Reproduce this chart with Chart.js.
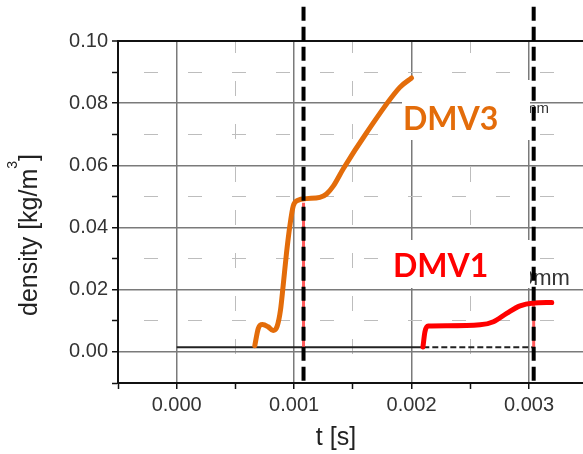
<!DOCTYPE html>
<html>
<head>
<meta charset="utf-8">
<script src="https://cdn.jsdelivr.net/npm/chart.js@4.4.0/dist/chart.umd.min.js"></script>
<style>
html,body{margin:0;padding:0;background:#fff;overflow:hidden;}
canvas{display:block;}
</style>
</head>
<body>
<canvas id="c" width="583" height="454"></canvas>
<script>
// ---- data ----
const xMajorTicks = [0.000, 0.001, 0.002, 0.003];
const yMajorTicks = [0.00, 0.02, 0.04, 0.06, 0.08, 0.10];

const dmv3T   = [0.000665,0.000695,0.000730,0.000778,0.000821,0.000855,0.000884,0.000906,0.000935,0.000963,0.000992,0.001034,0.001105,0.001219,0.001276,0.001333,0.001420,0.001617,0.001900,0.002000];
const dmv3Rho = [0.0020,  0.0076,  0.0088,  0.0081,  0.0069,  0.0082,  0.0135,  0.0211,  0.0318,  0.0404,  0.0469,  0.0488,  0.0493,  0.0497,  0.0508,  0.0533,  0.0590,  0.0705,  0.0851,  0.0881];

const dmv1T   = [0.002097,0.002114,0.002142,0.002300,0.002583,0.002697,0.002810,0.002924,0.003038,0.003194];
const dmv1Rho = [0.0016,  0.0065,  0.0083,  0.0084,  0.0087,  0.0097,  0.0124,  0.0148,  0.0157,  0.0159];

const baseSolidT = [0.0000, 0.0021];
const baseDashT  = [0.0021, 0.00305];
const baseRho    = [0.0015, 0.0015];

const marker1T = [0.00108, 0.00108];
const marker2T = [0.00304, 0.00304];
const markerRho = [0.111, -0.01];

const redMark1Rho = [0.048, 0.0015];
const redMark2Rho = [0.016, 0.0015];

// ---- helpers ----
const pts = (xs, ys) => xs.map((x, i) => ({x: x, y: ys[i]}));
const FONT = '"Liberation Sans", Arial, Helvetica, sans-serif';
const isMajorX = v => xMajorTicks.some(t => Math.abs(t - v) < 1e-9);
const isMajorY = v => yMajorTicks.some(t => Math.abs(t - v) < 1e-9);
const ORANGE = '#E36C0A';
const RED = '#FF0000';

const overlay = {
  id: 'overlay',
  beforeDatasetsDraw(chart) {
    const ctx = chart.ctx;
    ctx.save();
    ctx.fillStyle = '#333';
    ctx.textBaseline = 'alphabetic';
    ctx.textAlign = 'left';
    ctx.font = '15px ' + FONT;
    ctx.fillText('mm', 524, 113);
    ctx.font = '22px ' + FONT;
    ctx.fillText('0mm', 521, 285);
    ctx.fillStyle = '#fff';
    ctx.fillRect(402, 80, 128, 60);
    ctx.fillRect(385, 240, 145, 48);
    ctx.restore();
  },
  afterDatasetsDraw(chart) {
    const ctx = chart.ctx;
    ctx.save();
    ctx.textBaseline = 'alphabetic';
    ctx.textAlign = 'left';
    ctx.font = 'bold 32px Lato, "Open Sans", sans-serif';
    ctx.fillStyle = ORANGE;
    ctx.fillText('DMV3', 403, 130);
    ctx.fillStyle = RED;
    ctx.fillText('DMV1', 393, 277);

    // axis titles
    ctx.fillStyle = '#222';
    ctx.font = '25px ' + FONT;
    ctx.textAlign = 'center';
    ctx.fillText('t [s]', 336, 445);

    ctx.translate(37, 235);
    ctx.rotate(-Math.PI / 2);
    ctx.textAlign = 'left';
    const a = 'density [kg/m', b = '3', c = ']';
    ctx.font = '25px ' + FONT;
    const wa = ctx.measureText(a).width, wc = ctx.measureText(c).width;
    ctx.font = '14px ' + FONT;
    const wb = ctx.measureText(b).width;
    const start = -(wa + wb + wc) / 2;
    ctx.font = '25px ' + FONT;
    ctx.fillText(a, start, 0);
    ctx.fillText(c, start + wa + wb, 0);
    ctx.font = '14px ' + FONT;
    ctx.fillText(b, start + wa, -20);
    ctx.restore();
  }
};

const lineDs = (data, color, width, extra) => Object.assign({
  data: data, borderColor: color, borderWidth: width, pointRadius: 0,
  fill: false, tension: 0, borderCapStyle: 'butt'
}, extra || {});

new Chart(document.getElementById('c'), {
  type: 'line',
  data: {
    datasets: [
      lineDs(pts(marker1T, markerRho), '#000', 4, {borderDash: [14, 6], clip: false}),
      lineDs(pts(marker2T, markerRho), '#000', 4, {borderDash: [14, 6], clip: false}),
      lineDs(pts(dmv3T, dmv3Rho), ORANGE, 5, {tension: 0.4, cubicInterpolationMode: 'monotone', borderCapStyle: 'round'}),
      lineDs(pts(dmv1T, dmv1Rho), RED, 5, {tension: 0.4, cubicInterpolationMode: 'monotone', borderCapStyle: 'round'}),
      lineDs(pts(marker1T, redMark1Rho), '#ff5a5a', 3),
      lineDs(pts(marker2T, redMark2Rho), '#ff5a5a', 3),
      lineDs(pts(baseSolidT, baseRho), '#222', 2),
      lineDs(pts(baseDashT, baseRho), '#222', 2, {borderDash: [6, 3]})
    ]
  },
  options: {
    responsive: false,
    animation: false,
    layout: {padding: {top: 41, left: 0, right: 0, bottom: 0}},
    plugins: {legend: {display: false}, tooltip: {enabled: false}},
    scales: {
      x: {
        type: 'linear',
        min: -0.0005,
        max: 0.00346,
        afterFit(s) { s.height = 71; },
        ticks: {
          stepSize: 0.0005, autoSkip: false, maxTicksLimit: 20, includeBounds: false,
          maxRotation: 0, padding: 4, color: '#333',
          font: {family: FONT, size: 20},
          callback: v => isMajorX(v) ? v.toFixed(3) : ''
        },
        grid: {
          color: c => {
            const v = c.tick ? c.tick.value : 0;
            if (v < -0.0004) return 'rgba(0,0,0,0)';
            return isMajorX(v) ? '#7a7a7a' : '#bdbdbd';
          },
          lineWidth: c => (c.tick && isMajorX(c.tick.value)) ? 1.5 : 1,
          tickColor: '#111', tickLength: 6, tickWidth: 1.5
        },
        border: {
          display: true, color: '#111', width: 2,
          dash: c => (c.tick && !isMajorX(c.tick.value)) ? [15, 28] : [],
          dashOffset: c => (c.tick && !isMajorX(c.tick.value)) ? 3 : 0
        }
      },
      y: {
        type: 'linear',
        min: -0.01,
        max: 0.10,
        afterFit(s) { s.width = 118; },
        ticks: {
          stepSize: 0.01, autoSkip: false, maxTicksLimit: 20, includeBounds: false,
          padding: 4, color: '#333',
          font: {family: FONT, size: 20},
          callback: v => isMajorY(v) ? v.toFixed(2) : ''
        },
        grid: {
          color: c => {
            const v = c.tick ? c.tick.value : 0;
            if (v < -0.005) return 'rgba(0,0,0,0)';
            if (Math.abs(v - 0.10) < 1e-9) return '#111';
            return isMajorY(v) ? '#7a7a7a' : '#bdbdbd';
          },
          lineWidth: c => {
            const v = c.tick ? c.tick.value : 0;
            if (Math.abs(v - 0.10) < 1e-9) return 2;
            return isMajorY(v) ? 1.5 : 1;
          },
          tickColor: '#111', tickLength: 6, tickWidth: 1.5
        },
        border: {
          display: true, color: '#111', width: 2,
          dash: c => (c.tick && !isMajorY(c.tick.value)) ? [14, 30] : [],
          dashOffset: c => (c.tick && !isMajorY(c.tick.value)) ? 19 : 0
        }
      }
    }
  },
  plugins: [overlay]
});
</script>
</body>
</html>
